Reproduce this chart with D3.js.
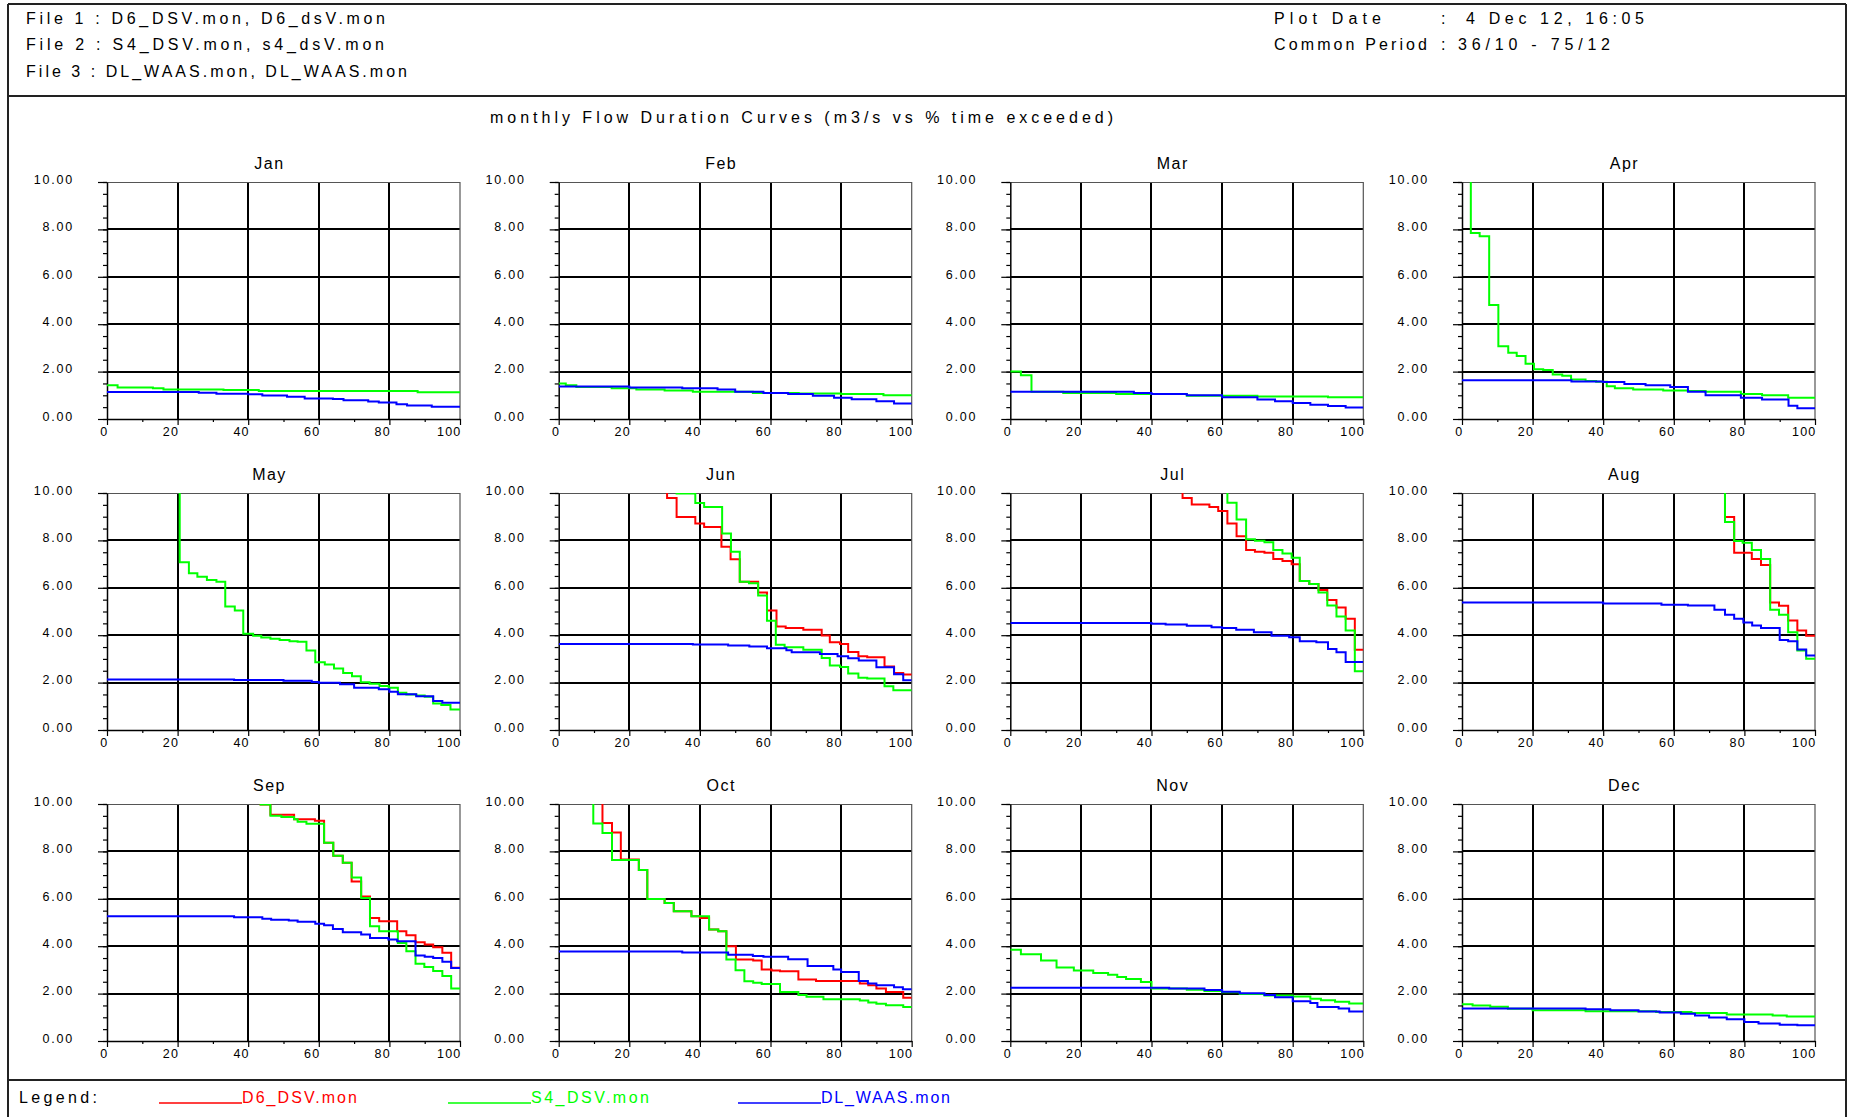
<!DOCTYPE html>
<html><head><meta charset="utf-8">
<script src="https://cdn.jsdelivr.net/npm/d3@7"></script>
<style>
body{margin:0;background:#fff;}
svg{display:block;font-family:"Liberation Sans",Arial,sans-serif;}
</style>
</head><body>
<svg id="c" width="1852" height="1117"></svg>
<script>
// ---------------- data ----------------
const months = ["Jan","Feb","Mar","Apr","May","Jun","Jul","Aug","Sep","Oct","Nov","Dec"];
const yTicks = [0,2,4,6,8,10];
const xTicks = [0,20,40,60,80,100];
const seriesNames = ["D6_DSV.mon","S4_DSV.mon","DL_WAAS.mon"];
const seriesColors = ["#ff0000","#00ff00","#0000ff"];
const fileLines = ["File 1 : D6_DSV.mon, D6_dsV.mon","File 2 : S4_DSV.mon, s4_dsV.mon","File 3 : DL_WAAS.mon, DL_WAAS.mon"];
const plotDate = ["Plot Date",":","4 Dec 12, 16:05"];
const commonPeriod = ["Common Period",":","36/10 - 75/12"];
const chartTitle = "monthly Flow Duration Curves (m3/s vs % time exceeded)";

// step curves: [% time exceeded, flow m3/s]; null = coincides with S4 (hidden under green)
const d6 = [
  null, null, null, null, null,
  [[0,14],[30.7,9.79],[33.4,8.99],[38.7,8.71],[41.2,8.57],[46.1,7.73],[48.7,7.2],[51.3,6.26],[56.5,5.8],[59,5.04],[61.7,4.37],[64.3,4.3],[69.3,4.23],[74.5,3.99],[76.8,3.7],[79.7,3.63],[82,3.29],[84.9,3.11],[87.4,3.07],[92.3,2.68],[95,2.41],[97.6,2.34],[100,2.34]],
  [[0,14],[48.8,9.79],[51.4,9.51],[56.4,9.41],[58.9,9.24],[61.5,8.71],[64.1,8.18],[66.8,7.59],[69.3,7.52],[72,7.48],[74.5,7.21],[77.1,7.13],[79.7,6.99],[82,6.29],[84.7,6.16],[87.3,5.91],[89.8,5.49],[92.4,5.17],[95,4.69],[97.6,3.39],[100,3.39]],
  [[0,14],[74.5,8.99],[77.1,7.48],[82.1,7.21],[84.7,6.96],[87.3,5.38],[89.8,5.24],[92.4,4.62],[95,4.2],[97.5,3.98],[100,3.98]],
  [[0,14],[43.5,9.98],[46.3,9.55],[53,9.36],[58.9,9.29],[61.5,8.36],[64.1,7.82],[66.8,7.52],[69.3,6.73],[72,6.1],[74.5,5.19],[77.1,5.05],[82.2,4.63],[84.8,4.46],[87.4,4.17],[90,4.07],[92.4,3.96],[95,3.72],[97.5,3.09],[100,3.09]],
  [[0,14],[12.4,9.2],[15.1,8.8],[17.6,7.66],[22.7,7.22],[25.1,5.99],[30,5.82],[32.6,5.47],[37.6,5.26],[40,5.19],[42.6,4.7],[45.2,4.63],[47.5,4.0],[50.2,3.44],[55.1,3.4],[57.5,3.02],[60.3,2.97],[62.7,2.94],[67.9,2.6],[72.9,2.53],[85.3,2.43],[87.7,2.35],[90,2.22],[92.7,2.07],[97.6,1.83],[100,1.83]],
  null, null
];
const s4 = [
  [[0,1.42],[3,1.33],[13,1.3],[16,1.25],[33,1.22],[43,1.18],[88,1.13],[100,1.13]],
  [[0,1.5],[2,1.42],[5,1.35],[15,1.3],[22,1.25],[30,1.2],[38,1.15],[55,1.1],[68,1.08],[80,1.05],[92,1.0],[100,1.0]],
  [[0,2.0],[3,1.85],[6,1.15],[15,1.1],[30,1.05],[50,0.98],[70,0.95],[90,0.92],[100,0.92]],
  [[0,12],[2.5,7.85],[5,7.71],[7.7,4.81],[10.3,3.07],[13.1,2.8],[15.5,2.66],[18,2.33],[20.4,2.1],[23,2.07],[25.7,1.88],[28.4,1.82],[30.9,1.67],[35,1.6],[38,1.57],[41,1.38],[43.3,1.3],[48.5,1.25],[57,1.2],[64,1.18],[69,1.15],[79,1.05],[85,1.0],[92.4,0.9],[100,0.9]],
  [[0,12],[20.6,7.08],[23.2,6.61],[25.6,6.47],[28.3,6.33],[31,6.26],[33.5,5.21],[36.2,5.04],[38.6,4.06],[41.4,3.98],[43.7,3.9],[46.3,3.85],[48.9,3.8],[51.7,3.75],[54,3.72],[56.5,3.35],[59,2.86],[61.7,2.76],[64.3,2.6],[66.9,2.41],[69.4,2.27],[71.9,2.02],[74.4,1.95],[77.2,1.86],[79.8,1.78],[82.4,1.57],[84.8,1.5],[87.6,1.46],[90,1.4],[92.4,1.12],[94.7,1.05],[97.3,0.87],[100,0.87]],
  [[0,14],[33.4,9.98],[38.7,9.58],[41.2,9.41],[46.3,8.29],[48.8,7.52],[51.3,6.26],[53.9,6.19],[56.5,5.67],[59,4.61],[61.5,3.6],[64,3.49],[69.3,3.39],[74.5,3.04],[76.8,2.72],[79.7,2.66],[82,2.38],[84.9,2.2],[87.4,2.17],[92.3,1.85],[94.8,1.68],[100,1.68]],
  [[0,14],[61.5,9.59],[64.1,8.88],[66.8,8.05],[69.3,7.98],[72,7.92],[74.5,7.59],[77.1,7.45],[79.7,7.27],[82,6.29],[84.7,6.16],[87.3,5.8],[89.8,5.25],[92.4,4.79],[95,4.2],[97.6,2.48],[100,2.48]],
  [[0,14],[74.5,8.78],[77.1,7.97],[79.5,7.9],[82.1,7.59],[84.7,7.21],[87.3,5.07],[89.8,4.86],[92.4,4.12],[95,3.35],[97.5,3.01],[100,3.01]],
  [[0,14],[43.5,9.98],[46.3,9.5],[49.4,9.45],[53,9.36],[54,9.25],[56.5,9.17],[61.5,8.36],[64.1,7.82],[66.8,7.52],[69.3,6.9],[72,6.03],[74.5,4.84],[77.1,4.63],[82.4,4.14],[84.8,3.79],[87.4,3.26],[89.9,3.12],[92.4,2.95],[95,2.74],[97.5,2.21],[100,2.21]],
  [[0,14],[9.8,9.18],[12.4,8.78],[15.1,7.64],[22.7,7.22],[25.1,5.99],[30,5.82],[32.6,5.47],[37.6,5.26],[42.6,4.7],[45.2,4.63],[47.5,3.44],[50.1,2.99],[52.6,2.52],[55.1,2.46],[57.5,2.41],[62.7,2.07],[67.9,1.94],[70.2,1.87],[75,1.76],[85.3,1.71],[87.7,1.62],[90,1.57],[92.7,1.51],[97.6,1.43],[100,1.43]],
  [[0,3.85],[3,3.66],[8.7,3.4],[13.1,3.1],[18,2.97],[23.5,2.87],[27.7,2.8],[30.3,2.7],[32.8,2.62],[37,2.49],[40,2.21],[50,2.16],[55,2.11],[60,2.06],[65,1.98],[72,1.92],[80,1.88],[85,1.78],[88,1.72],[92,1.66],[96,1.58],[100,1.58]],
  [[0,1.55],[3,1.5],[8,1.44],[13,1.36],[20,1.3],[35,1.26],[55,1.22],[65,1.18],[75,1.12],[88,1.08],[92,1.03],[100,1.03]]
];
const dl = [
  [[0,1.14],[26,1.11],[31,1.07],[40,1.04],[44,0.99],[51,0.94],[56,0.87],[64,0.84],[67,0.79],[74,0.74],[77,0.7],[82,0.62],[85,0.57],[92,0.52],[100,0.52]],
  [[0,1.37],[20,1.33],[35,1.3],[45,1.25],[50,1.15],[58,1.1],[65,1.05],[72,0.98],[78,0.9],[83,0.83],[90,0.75],[95,0.65],[100,0.65]],
  [[0,1.15],[35,1.1],[40,1.05],[50,1.0],[60,0.92],[70,0.82],[75,0.75],[80,0.67],[85,0.6],[90,0.55],[95,0.48],[100,0.48]],
  [[0,1.63],[31,1.58],[40,1.56],[46,1.48],[52,1.42],[59,1.35],[64,1.15],[69,1.0],[79,0.9],[85,0.82],[92.5,0.56],[95,0.45],[100,0.45]],
  [[0,2.13],[36,2.11],[50,2.08],[58,2.03],[60,1.99],[66,1.93],[70,1.78],[77,1.72],[80,1.61],[82.4,1.51],[87.6,1.42],[92.4,1.22],[95,1.15],[100,1.15]],
  [[0,3.63],[38,3.61],[48,3.57],[54,3.52],[59,3.45],[64.5,3.36],[66,3.28],[74,3.21],[79,3.11],[82,3.03],[85,2.93],[90,2.65],[95,2.35],[97.6,2.1],[100,2.1]],
  [[0,4.51],[40,4.48],[44,4.45],[50,4.4],[57,4.34],[60,4.3],[64,4.23],[69,4.12],[74,3.98],[79,3.91],[82,3.74],[86.7,3.7],[90,3.42],[92.4,3.28],[95,2.87],[100,2.87]],
  [[0,5.38],[40,5.34],[56.5,5.29],[64,5.25],[71.5,5.07],[74.5,4.86],[77.1,4.69],[79.7,4.54],[82.2,4.41],[84.7,4.3],[90,3.8],[92.4,3.75],[95,3.4],[97.5,3.14],[100,3.14]],
  [[0,5.26],[36,5.22],[44,5.16],[46.5,5.12],[51.5,5.08],[54,5.03],[59,4.95],[61.5,4.88],[64,4.73],[66.8,4.59],[72,4.49],[74.5,4.35],[79.7,4.28],[82.2,4.21],[87.4,3.61],[90,3.56],[92.4,3.5],[95,3.34],[97.5,3.08],[100,3.08]],
  [[0,3.78],[35,3.73],[48,3.64],[55,3.59],[58,3.55],[65,3.45],[70.5,3.16],[77.8,3.02],[80,2.91],[85,2.53],[87.6,2.43],[90,2.35],[95,2.27],[97.5,2.18],[100,2.18]],
  [[0,2.25],[45,2.22],[55,2.15],[60,2.08],[65,2.02],[72,1.94],[75,1.85],[80,1.68],[85,1.6],[87,1.43],[93,1.37],[96,1.25],[100,1.25]],
  [[0,1.37],[35,1.34],[42,1.3],[50,1.25],[56,1.2],[62,1.15],[66,1.08],[70,0.99],[75,0.92],[80,0.8],[84,0.74],[90,0.69],[95,0.66],[100,0.66]]
];

// ---------------- layout ----------------
const svg = d3.select("#c");
const W = 1852, H = 1117;
const colX = [107, 558.7, 1010.3, 1462];
const rowY = [182, 493, 804];
const pw = 353, ph = 237;
const font = '"Liberation Sans",Arial,sans-serif';

// frame
const frame = svg.append("g").attr("stroke","#222").attr("stroke-width",1.5).attr("shape-rendering","crispEdges");
frame.append("line").attr("x1",8).attr("x2",1846).attr("y1",4).attr("y2",4);
frame.append("line").attr("x1",8).attr("x2",8).attr("y1",4).attr("y2",H);
frame.append("line").attr("x1",1846).attr("x2",1846).attr("y1",4).attr("y2",H);
frame.append("line").attr("x1",8).attr("x2",1846).attr("y1",96).attr("y2",96);
frame.append("line").attr("x1",8).attr("x2",1846).attr("y1",1080).attr("y2",1080);

// header text
function txt(x, y, s, len, opts={}) {
  const t = svg.append("text").attr("x",x).attr("y",y).text(s)
    .attr("font-family",font).attr("font-size",opts.size||16).attr("fill",opts.fill||"#000");
  if (len) t.attr("textLength",len).attr("lengthAdjust","spacing");
  if (opts.anchor) t.attr("text-anchor",opts.anchor);
  return t;
}
const fileLens = [359, 358, 381];
fileLines.forEach((s,i) => txt(26, 23.5 + i*26.6, s, fileLens[i]));
txt(1274, 23.5, plotDate[0], 107);
txt(1441, 23.5, plotDate[1]);
txt(1466, 23.5, plotDate[2], 178);
txt(1274, 50, commonPeriod[0], 153);
txt(1441, 50, commonPeriod[1]);
txt(1458, 50, commonPeriod[2], 152);
txt(490, 122.5, chartTitle, 623);

// panels
const line = (x,y) => d3.line().x(d=>x(d[0])).y(d=>y(d[1])).curve(d3.curveStepAfter);
const allSeries = [d6, s4, dl];

months.forEach((m, i) => {
  const ox = colX[i % 4], oy = rowY[Math.floor(i/4)];
  const g = svg.append("g").attr("transform", `translate(${ox},${oy})`);
  const x = d3.scaleLinear().domain([0,100]).range([0,pw]);
  const y = d3.scaleLinear().domain([0,10]).range([ph,0]);

  g.append("clipPath").attr("id","clip"+i).append("rect").attr("x",0).attr("y",0).attr("width",pw).attr("height",ph);

  // title
  g.append("text").attr("x", pw/2 - 14).attr("y", -13).attr("text-anchor","middle")
    .attr("font-family",font).attr("font-size",16).attr("letter-spacing",1.5).text(m);

  // grid
  const grid = g.append("g").attr("stroke","#000").attr("stroke-width",2).attr("shape-rendering","crispEdges");
  grid.selectAll(".gv").data(xTicks.filter(v=>v>0&&v<100)).join("line")
    .attr("x1",d=>x(d)).attr("x2",d=>x(d)).attr("y1",0).attr("y2",ph);
  grid.selectAll(".gh").data(yTicks.filter(v=>v>0&&v<10)).join("line")
    .attr("x1",0).attr("x2",pw).attr("y1",d=>y(d)).attr("y2",d=>y(d));
  // top & right frame
  g.append("path").attr("d",`M0,0.5H${pw}V${ph}`).attr("fill","none").attr("stroke","#555").attr("stroke-width",1.2);

  // y axis minor
  const gyMin = g.append("g").call(d3.axisLeft(y).tickValues(d3.range(0,10.001,0.5)).tickSize(4).tickSizeOuter(0).tickFormat(""));
  gyMin.select(".domain").remove();
  // y axis major
  const gy = g.append("g").call(d3.axisLeft(y).tickValues(yTicks).tickSize(9).tickSizeOuter(0).tickFormat(d3.format(".2f")));
  gy.selectAll("text").attr("x",-33).attr("dy","0.1em").attr("font-size",12.5).attr("letter-spacing",1.8).attr("font-family",font);
  // x axis minor
  const gxMin = g.append("g").attr("transform",`translate(0,${ph})`)
    .call(d3.axisBottom(x).tickValues([10,30,50,70,90]).tickSize(3).tickSizeOuter(0).tickFormat(""));
  gxMin.select(".domain").remove();
  // x axis major
  const gx = g.append("g").attr("transform",`translate(0,${ph})`)
    .call(d3.axisBottom(x).tickValues(xTicks).tickSize(6).tickSizeOuter(0).tickFormat(d3.format("d")));
  gx.selectAll("text").attr("text-anchor","end").attr("x",1).attr("y",13).attr("dy","0.35em")
    .attr("font-size",12.5).attr("letter-spacing",1.2).attr("font-family",font);
  g.selectAll(".domain").attr("stroke","#000").attr("stroke-width",1.5);
  g.selectAll(".tick line").attr("stroke","#000").attr("stroke-width",1.2);

  // series
  const lg = g.append("g").attr("clip-path",`url(#clip${i})`);
  allSeries.forEach((arr, k) => {
    if (!arr[i]) return;
    lg.append("path").datum(arr[i]).attr("d", line(x,y)).attr("fill","none")
      .attr("stroke", seriesColors[k]).attr("stroke-width",2);
  });
});

// legend
txt(19, 1103, "Legend:", 78, {size:16});
const legX = [159, 448, 738];
const legTextLen = [115, 118, 129];
seriesNames.forEach((s,k) => {
  svg.append("line").attr("x1",legX[k]).attr("x2",legX[k]+83).attr("y1",1103).attr("y2",1103)
    .attr("stroke",seriesColors[k]).attr("stroke-width",1.5);
  txt(legX[k]+83, 1103, s, legTextLen[k], {fill:seriesColors[k], size:16});
});
</script>
</body></html>
